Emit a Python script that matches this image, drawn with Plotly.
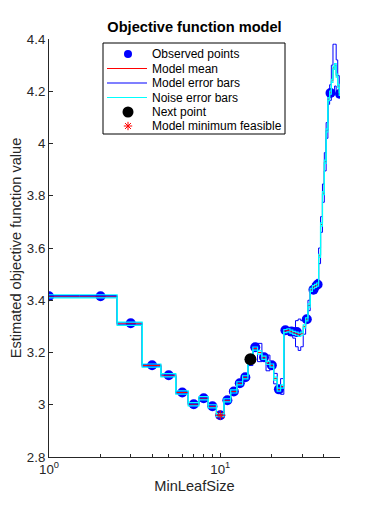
import plotly.graph_objects as go

# Integer grid of MinLeafSize values and model estimates at each
leaf_sizes = list(range(1, 51))
model_mean = [3.415, 3.415, 3.310, 3.150, 3.113, 3.047, 3.002, 3.025, 2.994, 2.960,
              3.017, 3.051, 3.082, 3.105, 3.170, 3.215, 3.200, 3.180, 3.160, 3.150,
              3.100, 3.058, 3.070, 3.282, 3.285, 3.280, 3.275, 3.272, 3.268, 3.272,
              3.300, 3.327, 3.380, 3.440, 3.450, 3.455, 3.460, 3.570, 3.690, 3.810,
              3.930, 4.050, 4.170, 4.195, 4.240, 4.290, 4.300, 4.260, 4.220, 4.190]
model_sd = [0.003, 0.003, 0.004, 0.004, 0.004, 0.004, 0.004, 0.004, 0.004, 0.004,
            0.004, 0.004, 0.004, 0.004, 0.020, 0.010, 0.035, 0.010, 0.030, 0.010,
            0.020, 0.010, 0.030, 0.010, 0.010, 0.015, 0.020, 0.050, 0.060, 0.050,
            0.030, 0.010, 0.020, 0.010, 0.015, 0.010, 0.020, 0.030, 0.030, 0.035,
            0.035, 0.030, 0.020, 0.030, 0.060, 0.090, 0.080, 0.060, 0.040, 0.010]
noise_sd = 0.006

obs_x = [1, 2, 3, 4, 5, 6, 7, 8, 9, 10, 11, 12, 13, 14, 16, 18, 20, 22,
         24, 26, 28, 32, 35, 37, 44, 50]
obs_y = [3.415, 3.415, 3.312, 3.151, 3.113, 3.047, 3.002, 3.025, 2.994, 2.960,
         3.017, 3.051, 3.082, 3.105, 3.220, 3.182, 3.151, 3.059, 3.285, 3.280,
         3.278, 3.327, 3.440, 3.460, 4.193, 4.190]

next_x = [15]
next_y = [3.174]
min_x = [10]
min_y = [2.960]

x_major = [1, 10]
x_major_text = ['10<sup>0</sup>', '10<sup>1</sup>']
x_minor = [2, 3, 4, 5, 6, 7, 8, 9, 20, 30, 40, 50]
y_ticks = [2.8, 3.0, 3.2, 3.4, 3.6, 3.8, 4.0, 4.2, 4.4]
y_tick_text = ['2.8', '3', '3.2', '3.4', '3.6', '3.8', '4', '4.2', '4.4']

legend_labels = ['Observed points', 'Model mean', 'Model error bars',
                 'Noise error bars', 'Next point', 'Model minimum feasible']

# step boundaries: each integer value applies on [k-0.5, k+0.5] clipped to axis
lo, hi = leaf_sizes[0], leaf_sizes[-1]
step_x = [max(lo, k - 0.5) for k in leaf_sizes] + [hi]


def step_y(vals):
    return list(vals) + [vals[-1]]


upper_m = [m + s for m, s in zip(model_mean, model_sd)]
lower_m = [m - s for m, s in zip(model_mean, model_sd)]
upper_n = [m + noise_sd for m in model_mean]
lower_n = [m - noise_sd for m in model_mean]

BLUE = '#0000FF'
CYAN = '#00FFFF'
RED = '#FF0000'

fig = go.Figure()

fig.add_trace(go.Scatter(x=obs_x, y=obs_y, mode='markers', name=legend_labels[0],
                         marker=dict(color=BLUE, size=10, line=dict(width=0))))
fig.add_trace(go.Scatter(x=step_x, y=step_y(model_mean), mode='lines',
                         line=dict(color=RED, width=1, shape='hv'), name=legend_labels[1]))
fig.add_trace(go.Scatter(x=step_x + [None] + step_x,
                         y=step_y(upper_m) + [None] + step_y(lower_m),
                         mode='lines', line=dict(color=BLUE, width=1, shape='hv'),
                         name=legend_labels[2]))
fig.add_trace(go.Scatter(x=step_x + [None] + step_x,
                         y=step_y(upper_n) + [None] + step_y(lower_n),
                         mode='lines', line=dict(color=CYAN, width=1.2, shape='hv'),
                         name=legend_labels[3]))
fig.add_trace(go.Scatter(x=next_x, y=next_y, mode='markers', name=legend_labels[4],
                         marker=dict(color='black', size=12)))
fig.add_trace(go.Scatter(x=min_x, y=min_y, mode='markers', name=legend_labels[5],
                         marker=dict(color=RED, symbol='asterisk-open', size=8,
                                     line=dict(color=RED, width=1))))

# ---- legend box drawn on an overlay axis measured in (page) pixels ----
L_left, L_right, L_top, L_bottom = 103, 285, 43, 134
row_y = [54, 68.5, 83, 97.5, 112, 126]
sym_x0, sym_x1, sym_xc, text_x = 107, 147, 128, 150

shapes = [dict(type='rect', xref='x2', yref='y2', x0=L_left, x1=L_right,
               y0=L_top, y1=L_bottom, line=dict(color='black', width=1),
               fillcolor='white', layer='below')]
for ry, col in zip(row_y[1:4], [RED, BLUE, CYAN]):
    shapes.append(dict(type='line', xref='x2', yref='y2', x0=sym_x0, x1=sym_x1,
                       y0=ry, y1=ry, line=dict(color=col, width=1.2), layer='above'))

fig.add_trace(go.Scatter(x=[sym_xc], y=[row_y[0]], xaxis='x2', yaxis='y2', mode='markers',
                         marker=dict(color=BLUE, size=8), showlegend=False, hoverinfo='skip'))
fig.add_trace(go.Scatter(x=[sym_xc], y=[row_y[4]], xaxis='x2', yaxis='y2', mode='markers',
                         marker=dict(color='black', size=11), showlegend=False, hoverinfo='skip'))
fig.add_trace(go.Scatter(x=[sym_xc], y=[row_y[5]], xaxis='x2', yaxis='y2', mode='markers',
                         marker=dict(color=RED, symbol='asterisk-open', size=7,
                                     line=dict(color=RED, width=1)),
                         showlegend=False, hoverinfo='skip'))

annotations = []
for ry, lab in zip(row_y, legend_labels):
    annotations.append(dict(x=text_x, y=ry, xref='x2', yref='y2', text=lab,
                            showarrow=False, xanchor='left', yanchor='middle',
                            font=dict(size=12, color='black')))

# page has an 8px body margin: figure is sized so the plot lands where the reference has it
FIG_W, FIG_H = 369, 504
font_family = 'Liberation Sans, Arial, sans-serif'
fig.update_layout(
    width=FIG_W, height=FIG_H,
    margin=dict(l=41, r=37, t=31, b=55),
    plot_bgcolor='white', paper_bgcolor='white',
    font=dict(family=font_family, size=13.3, color='#262626'),
    title=dict(text='<b>Objective function model</b>', x=(41 + 332) / 2 / FIG_W,
               xanchor='center', y=1 - 19 / FIG_H, yanchor='middle',
               font=dict(size=14.6, color='black')),
    showlegend=False,
    shapes=shapes,
    annotations=annotations,
    xaxis=dict(type='log', range=[0, 1.699], tickmode='array', tickvals=x_major,
               ticktext=x_major_text, automargin=False,
               ticks='inside', ticklen=4, tickcolor='#262626', showgrid=False,
               minor=dict(tickmode='array', tickvals=x_minor, ticks='inside', ticklen=3,
                          tickcolor='#262626', showgrid=False),
               showline=True, linecolor='#262626', linewidth=1, zeroline=False,
               title=dict(text='MinLeafSize', font=dict(size=14.6), standoff=4),
               tickfont=dict(size=13.3)),
    yaxis=dict(range=[2.8, 4.4], tickmode='array', tickvals=y_ticks, ticktext=y_tick_text,
               ticks='inside', ticklen=4, tickcolor='#262626', showgrid=False,
               automargin=False,
               showline=True, linecolor='#262626', linewidth=1, zeroline=False,
               title=dict(text='Estimated objective function value', font=dict(size=14.6),
                          standoff=3),
               tickfont=dict(size=13.3)),
    xaxis2=dict(overlaying='x', range=[49, 340], visible=False, fixedrange=True),
    yaxis2=dict(overlaying='y', range=[457, 39], visible=False, fixedrange=True),
)

fig.write_html('out.html')
